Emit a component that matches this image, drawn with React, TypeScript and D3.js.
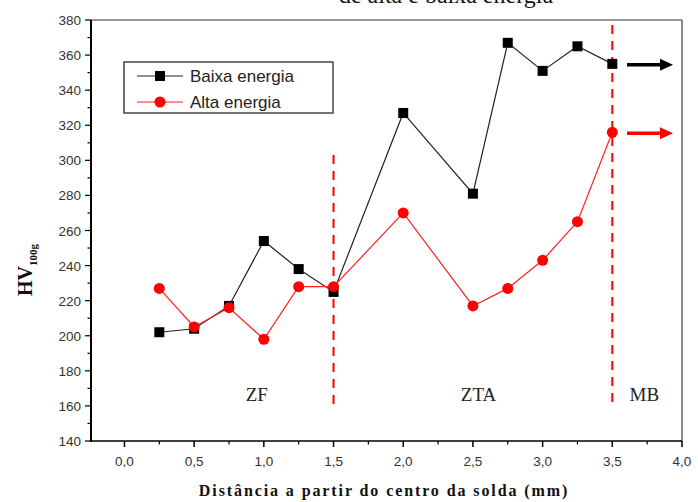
import React from "react";
import * as d3 from "d3";

const xPos = [0.25, 0.5, 0.75, 1.0, 1.25, 1.5, 2.0, 2.5, 2.75, 3.0, 3.25, 3.5];
const baixa = [202, 204, 217, 254, 238, 225, 327, 281, 367, 351, 365, 355];
const alta = [227, 205, 216, 198, 228, 228, 270, 217, 227, 243, 265, 316];
const xTicks = [0, 0.5, 1.0, 1.5, 2.0, 2.5, 3.0, 3.5, 4.0];
const yTicks = [140, 160, 180, 200, 220, 240, 260, 280, 300, 320, 340, 360, 380];
const zoneLines = [1.5, 3.5];
const zones = [
  { label: "ZF", x: 0.95 },
  { label: "ZTA", x: 2.54 },
  { label: "MB", x: 3.73 },
];
const seriesNames = ["Baixa energia", "Alta energia"];

export default function App() {
  const W = 698, H = 502;
  const L = 91, R = 682, T = 20, B = 441;
  const x = d3.scaleLinear().domain([-0.24, 4.0]).range([L, R]);
  const y = d3.scaleLinear().domain([140, 380]).range([B, T]);
  const line = d3.line<number>().x((_, i) => x(xPos[i])).y((d) => y(d));
  const xMinor = d3.range(-0.25, 4.01, 0.25).filter((v) => v > -0.24 && Math.abs((v * 2) % 1) > 0.01);
  const yMinor = d3.range(150, 380, 20);
  const tickFont = "Arial, 'Liberation Sans', sans-serif";
  const serif = "'Times New Roman', 'Liberation Serif', serif";
  return (
    <svg width={W} height={H} style={{ position: "absolute", left: 0, top: 0, background: "#fff" }}>
      <text x={446} y={3} textAnchor="middle" fontFamily={serif} fontSize={24} fill="#111">
        de alta e baixa energia
      </text>
      {/* frame */}
      <line x1={L} x2={R} y1={T} y2={T} stroke="#333" strokeWidth={1.2} />
      <line x1={R} x2={R} y1={T} y2={B} stroke="#444" strokeWidth={1.2} />
      <line x1={L} x2={L} y1={T} y2={B + 1} stroke="#000" strokeWidth={2} />
      <line x1={L} x2={R} y1={B} y2={B} stroke="#000" strokeWidth={1.5} />
      {/* y ticks */}
      {yTicks.map((t) => (
        <g key={"y" + t}>
          <line x1={L - 6} x2={L} y1={y(t)} y2={y(t)} stroke="#000" strokeWidth={1.2} />
          <text x={L - 10} y={y(t) + 5} textAnchor="end" fontFamily={tickFont} fontSize={13.5} fill="#333">
            {t}
          </text>
        </g>
      ))}
      {yMinor.map((t) => (
        <line key={"ym" + t} x1={L - 3.5} x2={L} y1={y(t)} y2={y(t)} stroke="#000" strokeWidth={1.2} />
      ))}
      {/* x ticks */}
      {xTicks.map((t) => (
        <g key={"x" + t}>
          <line x1={x(t)} x2={x(t)} y1={B} y2={B + 6} stroke="#000" strokeWidth={1.5} />
          <text x={x(t)} y={B + 25} textAnchor="middle" fontFamily={tickFont} fontSize={13.5} fill="#333">
            {t.toFixed(1).replace(".", ",")}
          </text>
        </g>
      ))}
      {xMinor.map((t) => (
        <line key={"xm" + t} x1={x(t)} x2={x(t)} y1={B} y2={B + 3.5} stroke="#000" strokeWidth={1.2} />
      ))}
      {/* axis labels */}
      <text x={384} y={496} textAnchor="middle" fontFamily={serif} fontWeight="bold" fontSize={16} fill="#111" letterSpacing={1.9}>
        Distância a partir do centro da solda (mm)
      </text>
      <text transform="translate(32,270) rotate(-90)" textAnchor="middle" fontFamily={serif} fontWeight="bold" fill="#111">
        <tspan fontSize={20}>HV</tspan>
        <tspan fontSize={11} dy={5}>100g</tspan>
      </text>
      {/* zone lines */}
      <line x1={x(zoneLines[0])} x2={x(zoneLines[0])} y1={155} y2={405} stroke="#ff0000" strokeWidth={2} strokeDasharray="9,7" />
      <line x1={x(zoneLines[1])} x2={x(zoneLines[1])} y1={25} y2={405} stroke="#ff0000" strokeWidth={2} strokeDasharray="9,7" />
      {zones.map((z) => (
        <text key={z.label} x={x(z.x)} y={401} textAnchor="middle" fontFamily={serif} fontSize={19} fill="#222">
          {z.label}
        </text>
      ))}
      {/* series */}
      <path d={line(baixa) || ""} fill="none" stroke="#222" strokeWidth={1.2} />
      <path d={line(alta) || ""} fill="none" stroke="#ff2020" strokeWidth={1.2} />
      {baixa.map((v, i) => (
        <rect key={"b" + i} x={x(xPos[i]) - 5} y={y(v) - 5} width={10} height={10} fill="#000" />
      ))}
      {alta.map((v, i) => (
        <circle key={"a" + i} cx={x(xPos[i])} cy={y(v)} r={5.5} fill="#ff0000" />
      ))}
      {/* arrows */}
      {[
        { v: baixa[baixa.length - 1], c: "#000" },
        { v: alta[alta.length - 1], c: "#ff0000" },
      ].map((a, i) => (
        <g key={"ar" + i}>
          <line x1={627} x2={664} y1={y(a.v) + 1} y2={y(a.v) + 1} stroke={a.c} strokeWidth={3.5} />
          <path d={`M660,${y(a.v) - 5} L673,${y(a.v) + 1} L660,${y(a.v) + 7} Z`} fill={a.c} />
        </g>
      ))}
      {/* legend */}
      <rect x={124} y={62} width={209} height={51} fill="#fff" stroke="#444" strokeWidth={1.5} />
      {seriesNames.map((n, i) => {
        const ly = 76 + i * 26;
        return (
          <g key={n}>
            <line x1={137} x2={183} y1={ly} y2={ly} stroke={i === 0 ? "#222" : "#ff2020"} strokeWidth={1.2} />
            {i === 0 ? (
              <rect x={155} y={ly - 5} width={10} height={10} fill="#000" />
            ) : (
              <circle cx={160} cy={ly} r={5.5} fill="#ff0000" />
            )}
            <text x={190} y={ly + 6} fontFamily={tickFont} fontSize={17} fill="#222">
              {n}
            </text>
          </g>
        );
      })}
    </svg>
  );
}
